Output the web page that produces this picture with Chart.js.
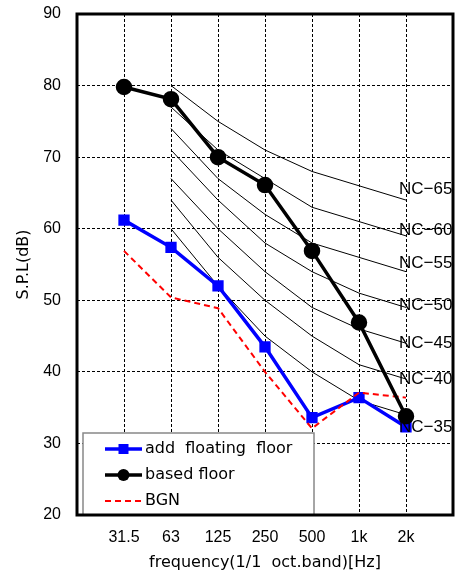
<!DOCTYPE html>
<html><head><meta charset="utf-8">
<script src="https://cdn.jsdelivr.net/npm/chart.js@4/dist/chart.umd.min.js"></script>
<style>html,body{margin:0;padding:0;background:#fff}#c{display:block}</style>
</head>
<body><canvas id="c" width="463" height="574"></canvas>
<script>
// ---- data ----
const categories = ['31.5', '63', '125', '250', '500', '1k', '2k'];
const yTicks = [20, 30, 40, 50, 60, 70, 80, 90];
const addFloatingFloor = [61.2, 57.4, 52.0, 43.5, 33.6, 36.4, 32.3];
const basedFloor = [79.8, 78.1, 70.0, 66.1, 56.9, 46.9, 33.8];
const bgn = [56.9, 50.4, 48.9, 40.0, 32.1, 37.1, 36.4];
// NC curves, 63 Hz .. 2 kHz
const ncNames = ['NC\u221265', 'NC\u221260', 'NC\u221255', 'NC\u221250', 'NC\u221245', 'NC\u221240', 'NC\u221235'];
const nc65 = [80, 75, 71, 68, 66, 64];
const nc60 = [77, 71, 67, 63, 61, 59];
const nc55 = [74, 67, 62, 58, 56, 54];
const nc50 = [71, 64, 58, 54, 51, 49];
const nc45 = [67, 60, 54, 49, 46, 44];
const nc40 = [64, 56, 50, 45, 41, 39];
const nc35 = [60, 52, 45, 40, 36, 34];
const ncLabelLevel = [65.5, 59.8, 55.2, 49.3, 44.0, 38.9, 32.3];

const ncCurves = [nc65, nc60, nc55, nc50, nc45, nc40, nc35];
const pts = arr => arr.map((v, i) => ({x: i + 1, y: v}));
const ncPts = arr => arr.map((v, i) => ({x: i + 2, y: v}));

const datasets = [
  {label: 'add  floating  floor', data: pts(addFloatingFloor), borderColor: '#0000ff', backgroundColor: '#0000ff',
   borderWidth: 3.5, pointStyle: 'rect', pointRadius: 5.5, order: 3, isMain: true},
  {label: 'based floor', data: pts(basedFloor), borderColor: '#000', backgroundColor: '#000',
   borderWidth: 3.5, pointStyle: 'circle', pointRadius: 6.5, order: 1, isMain: true},
  {label: 'BGN', data: pts(bgn), borderColor: '#ff0000', backgroundColor: '#ff0000',
   borderWidth: 2, borderDash: [6, 4], pointRadius: 0, order: 2, isMain: true}
];
ncCurves.forEach((c, i) => datasets.push({label: ncNames[i], data: ncPts(c), borderColor: '#000',
  borderWidth: 1, pointRadius: 0, order: 10, ncIndex: i}));

const decor = {
  id: 'decor',
  afterDatasetsDraw(chart) {
    const {ctx, scales: {x, y}} = chart;
    ctx.save();
    ctx.fillStyle = '#000';
    ctx.font = '17px "Liberation Sans", Arial, sans-serif';
    ctx.textBaseline = 'middle';
    ctx.textAlign = 'left';
    ncNames.forEach((n, i) => {
      ctx.fillText(n, x.getPixelForValue(categories.length) - 7, y.getPixelForValue(ncLabelLevel[i]));
    });
    ctx.restore();
  },
  afterDraw(chart) {
    const {ctx, chartArea: a} = chart;
    ctx.save();
    // legend
    const lx = a.left + 6, ly = 433, lw = 231, lh = a.bottom - 433;
    ctx.fillStyle = '#fff';
    ctx.fillRect(lx, ly, lw, lh);
    ctx.strokeStyle = '#888';
    ctx.lineWidth = 1.5;
    ctx.strokeRect(lx, ly, lw, lh);
    const mains = chart.data.datasets.filter(d => d.isMain);
    ctx.font = '16px "DejaVu Sans", sans-serif';
    ctx.textBaseline = 'middle';
    mains.forEach((d, i) => {
      const yy = 449 + i * 26;
      ctx.strokeStyle = d.borderColor;
      ctx.lineWidth = d.borderWidth;
      ctx.setLineDash(d.borderDash || []);
      ctx.beginPath(); ctx.moveTo(lx + 22, yy); ctx.lineTo(lx + 59, yy); ctx.stroke();
      ctx.setLineDash([]);
      ctx.fillStyle = d.backgroundColor;
      if (d.pointRadius > 0) {
        if (d.pointStyle === 'rect') ctx.fillRect(lx + 40.5 - 5, yy - 5, 10, 10);
        else { ctx.beginPath(); ctx.arc(lx + 40.5, yy, 6, 0, Math.PI * 2); ctx.fill(); }
      }
      ctx.fillStyle = '#000';
      ctx.fillText(d.label, lx + 62, yy);
    });
    // frame
    ctx.strokeStyle = '#000';
    ctx.lineWidth = 3;
    ctx.strokeRect(a.left, a.top, a.right - a.left, a.bottom - a.top);
    ctx.restore();
  }
};

new Chart(document.getElementById('c'), {
  type: 'line',
  data: {datasets},
  options: {
    responsive: false, animation: false, devicePixelRatio: 1,
    layout: {padding: {top: 14, right: 7, left: 0, bottom: 0}},
    plugins: {legend: {display: false}, tooltip: {enabled: false}},
    elements: {line: {tension: 0}},
    scales: {
      x: {
        type: 'linear', min: 0, max: categories.length + 1,
        afterFit: s => { s.height = 59; },
        afterBuildTicks: s => { s.ticks = Array.from({length: categories.length + 2}, (_, i) => ({value: i})); },
        ticks: {callback: v => categories[v - 1] ?? '', autoSkip: false, maxRotation: 0, padding: 0,
          color: '#000', font: {family: '"Liberation Sans", Arial, sans-serif', size: 16}},
        grid: {drawTicks: true, tickLength: 13, tickColor: 'rgba(0,0,0,0)', lineWidth: 1,
          color: c => (c.tick && c.tick.value >= 1 && c.tick.value <= categories.length) ? '#000' : 'rgba(0,0,0,0)'},
        border: {display: false, dash: [3, 2]},
        title: {display: true, text: 'frequency(1/1  oct.band)[Hz]', color: '#000',
          font: {family: '"DejaVu Sans", sans-serif', size: 16}, padding: {top: 0, bottom: 2}}
      },
      y: {
        min: yTicks[0], max: yTicks[yTicks.length - 1],
        afterFit: s => { s.width = 77; },
        afterBuildTicks: s => { s.ticks = yTicks.map(v => ({value: v})); },
        ticks: {padding: 0, color: '#000', font: {family: '"Liberation Sans", Arial, sans-serif', size: 16}},
        grid: {drawTicks: true, tickLength: 16, tickColor: 'rgba(0,0,0,0)', lineWidth: 1,
          color: c => (c.tick && c.tick.value > yTicks[0] && c.tick.value < yTicks[yTicks.length - 1]) ? '#000' : 'rgba(0,0,0,0)'},
        border: {display: false, dash: [3, 2]},
        title: {display: true, text: 'S.P.L(dB)', color: '#000',
          font: {family: '"DejaVu Sans", sans-serif', size: 16}, padding: {top: 14, bottom: 0}}
      }
    }
  },
  plugins: [decor]
});
</script>
</body></html>
